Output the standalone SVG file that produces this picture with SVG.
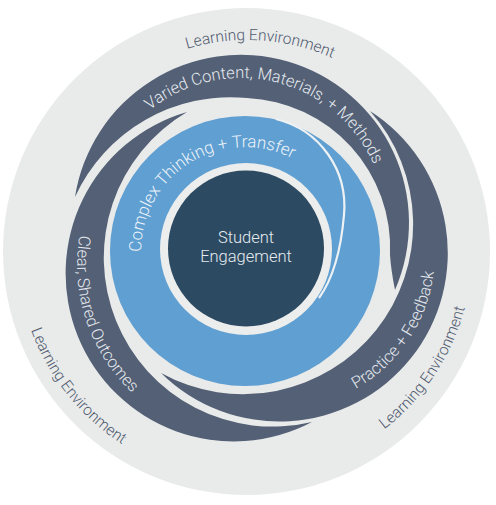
<svg xmlns="http://www.w3.org/2000/svg" width="496" height="505" viewBox="0 0 496 505">
<defs>
<path id="p-le-top" d="M 71.4 134.1 A 211 211 0 0 1 436.1 157.4"/>
<path id="p-le-left" d="M 32.8 167.1 A 230 230 0 0 0 281.4 478.4"/>
<path id="p-le-right" d="M 233.3 475.6 A 225 225 0 0 0 448.4 150.6"/>
<path id="p-varied" d="M 108.2 164.8 A 145 145 0 0 1 385.7 232.2"/>
<path id="p-practice" d="M 216.2 395.8 A 156 156 0 0 0 386.9 140.3"/>
<path id="p-clear" d="M 169.3 110.2 A 176 176 0 0 0 278.7 439.1"/>
<path id="p-complex" d="M 148.4 289.4 A 104 104 0 0 1 322.6 181.8"/>
</defs>
<style>
text{font-family:Roboto,"Liberation Sans",Arial,sans-serif;font-weight:300}
.band{fill:#536075}
.le{fill:#4f5a6e;font-size:15.5px}
.bt{fill:#e4e8ee;font-size:16.5px}
.ct{fill:#edf3f9;font-size:17px}
.st{fill:#e6ebef;font-size:16.5px}
</style>
<g id="environment">
<circle cx="246.5" cy="251.5" r="243.5" fill="#e9eaea"/>
</g>
<g id="band-varied">
<path class="band" d="M 75 197 A 168 168 0 1 1 395 290 Q 391 270 390 255 A 150 150 0 0 0 247 98 A 171 171 0 0 0 75 197 Z"/>
</g>
<g id="band-practice">
<path class="band" d="M 370 111 A 168.5 168.5 0 1 1 161 373 A 170 170 0 0 0 370 111 Z"/>
</g>
<g id="band-clear">
<path class="band" d="M 312 422 A 168 168 0 1 1 187 112 A 169 169 0 0 0 312 422 Z"/>
</g>
<g id="ring-complex">
<circle cx="245" cy="251" r="135" fill="#5f9fd1"/>
<path d="M 276 119 C 320 130, 348 170, 344 215 C 341 250, 332 280, 319 298" fill="none" stroke="#eef2f5" stroke-width="2.2"/>
<circle cx="246" cy="249" r="86" fill="#eceded"/>
</g>
<g id="student-engagement">
<circle cx="246" cy="248.5" r="78" fill="#2c4a62"/>
<text class="st" x="246" y="243" text-anchor="middle">Student</text>
<text class="st" x="246" y="262" text-anchor="middle">Engagement</text>
</g>
<g id="labels">
<text class="le"><textPath href="#p-le-top" startOffset="50%" text-anchor="middle">Learning Environment</textPath></text>
<text class="le"><textPath href="#p-le-left" startOffset="50%" text-anchor="middle">Learning Environment</textPath></text>
<text class="le"><textPath href="#p-le-right" startOffset="50%" text-anchor="middle">Learning Environment</textPath></text>
<text class="bt"><textPath href="#p-varied" startOffset="50%" text-anchor="middle">Varied Content, Materials, + Methods</textPath></text>
<text class="bt"><textPath href="#p-practice" startOffset="50%" text-anchor="middle">Practice + Feedback</textPath></text>
<text class="bt"><textPath href="#p-clear" startOffset="50%" text-anchor="middle">Clear, Shared Outcomes</textPath></text>
<text class="ct"><textPath href="#p-complex" startOffset="50%" text-anchor="middle">Complex Thinking + Transfer</textPath></text>
</g>
</svg>
